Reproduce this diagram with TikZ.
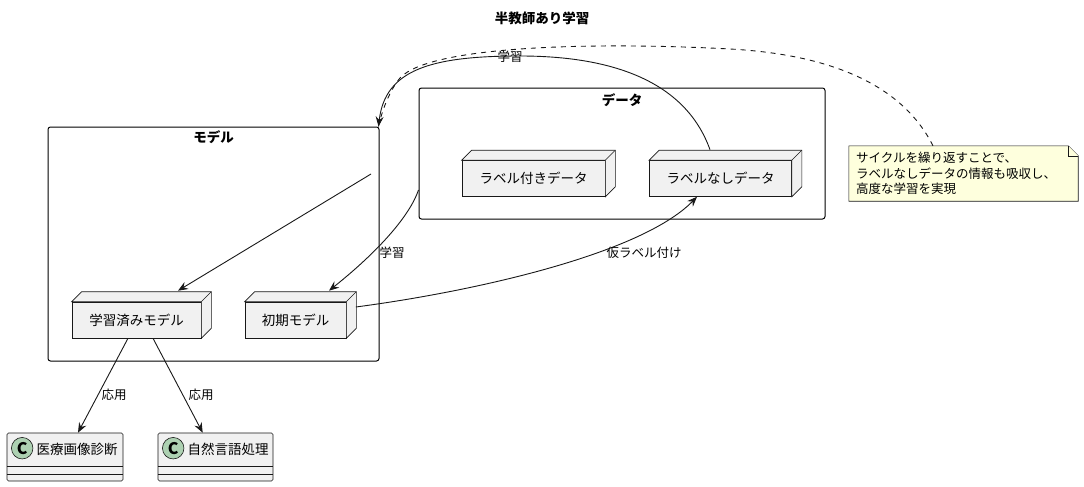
\documentclass[tikz,border=0pt]{standalone}
\usepackage{fontspec}
\setmainfont{Noto Sans CJK JP}
\usetikzlibrary{arrows.meta,calc}
\definecolor{nodefill}{HTML}{F1F1F1}
\definecolor{nodeline}{HTML}{181818}
\definecolor{notefill}{HTML}{FEFFDD}
\definecolor{circfill}{HTML}{ADD1B2}
\newcommand\threedbox[1]{%
  \filldraw[nodeedge] (#1.north west) -- ++(10,-10) -- ($(#1.north east)+(10,-10)$) -- ($(#1.south east)+(10,-10)$) -- (#1.south east) -- (#1.north east) -- cycle;
  \draw[nodeedge] (#1.north east) -- ++(10,-10);}
\newcommand\classsep[1]{%
  \draw[nodeedge] ([yshift=15.3pt]#1.south west) -- ([yshift=15.3pt]#1.south east);
  \draw[nodeedge] ([yshift=7.3pt]#1.south west) -- ([yshift=7.3pt]#1.south east);}
\begin{document}
\begin{tikzpicture}[x=1pt,y=-1pt,
  pkg/.style={draw=black,line width=1pt,rounded corners=2.5pt,inner sep=0pt},
  pkgtitle/.style={font=\fontsize{13.5}{16}\selectfont\bfseries,inner sep=0pt},
  nodeedge/.style={draw=nodeline,fill=nodefill,line width=0.6pt},
  nodebox/.style={nodeedge,minimum height=36pt,inner sep=0pt,font=\fontsize{13.5}{16}\selectfont},
  classbox/.style={nodeedge,rounded corners=1.5pt,minimum height=48pt,inner sep=0pt},
  circ/.style={circle,draw=nodeline,fill=circfill,line width=0.6pt,minimum size=21.5pt,inner sep=0pt,font=\fontsize{16}{16}\selectfont\bfseries},
  classtext/.style={inner sep=0pt,font=\fontsize{13.5}{16}\selectfont},
  lbl/.style={inner sep=0pt,font=\fontsize{12.5}{15}\selectfont},
  conn/.style={draw=nodeline,line width=0.9pt},
  arr/.style={conn,-{Stealth[length=10pt,width=8pt,inset=3.5pt]}},
  notestyle/.style={draw=nodeline,fill=notefill,line width=0.6pt}]
\useasboundingbox (0,0) rectangle (1084,487);

% title
\node[pkgtitle] (title) at (542,18) {半教師あり学習};

% packages
\node[pkg,minimum width=331pt,minimum height=234pt] (modelpkg) at (213.5,244) {};
\node[pkgtitle] (modeltitle) at (213.5,137) {モデル};
\node[pkg,minimum width=406pt,minimum height=131pt] (datapkg) at (622,153.5) {};
\node[pkgtitle] (datatitle) at (622,100) {データ};

% nodes
\node[nodebox,minimum width=129pt] (trained) at (136.5,320) {学習済みモデル};
\threedbox{trained}
\node[nodebox,minimum width=101pt] (init) at (295.5,320) {初期モデル};
\threedbox{init}
\node[nodebox,minimum width=143pt] (labeled) at (533.5,178.5) {ラベル付きデータ};
\threedbox{labeled}
\node[nodebox,minimum width=142pt] (unlabeled) at (720.5,178.5) {ラベルなしデータ};
\threedbox{unlabeled}

% classes
\node[classbox,minimum width=116pt] (med) at (65,457) {};
\classsep{med}
\node[circ] (medc) at ([xshift=15.5pt,yshift=-15.5pt]med.north west) {C};
\node[classtext,anchor=west] (medt) at (36.5,449) {医療画像診断};
\node[classbox,minimum width=115pt] (nlp) at (215.5,457) {};
\classsep{nlp}
\node[circ] (nlpc) at ([xshift=15.5pt,yshift=-15.5pt]nlp.north west) {C};
\node[classtext,anchor=west] (nlpt) at (187.5,449) {自然言語処理};

% note
\node[minimum width=229pt,minimum height=55pt,inner sep=0pt] (note) at (963.5,173.5) {};
\draw[notestyle] (note.north west) -- ([xshift=-10pt]note.north east) -- ([yshift=-10pt]note.north east) -- (note.south east) -- (note.south west) -- cycle;
\draw[notestyle] ([xshift=-10pt]note.north east) -- ([xshift=-10pt,yshift=-10pt]note.north east) -- ([yshift=-10pt]note.north east);
\node[anchor=west,align=left,inner sep=0pt,font=\fontsize{12.5}{15.5}\selectfont] (notetext) at (856,173.5) {サイクルを繰り返すことで、\\ラベルなしデータの情報も吸収し、\\高度な学習を実現};

% connectors
\coordinate (mstart) at (371,174);
\draw[arr] (mstart) -- ([xshift=41.5pt,yshift=11pt]trained.north);

\draw[arr] ([yshift=-36.5pt]datapkg.west) .. controls (410,215) and (380,250) .. ([xshift=33.5pt,yshift=11pt]init.north);
\node[lbl] (l1) at (392,253) {学習};

\draw[arr] ([xshift=9.5pt,yshift=13pt]init.east) .. controls (470,292) and (640,255) .. ([xshift=-23.5pt]unlabeled.south);
\node[lbl] (l2) at (644,253) {仮ラベル付け};

\draw[conn,dash pattern=on 5pt off 5pt] ([xshift=-30.5pt]note.north) .. controls (905,90) and (840,55) .. (730,49) .. controls (600,42) and (430,45) .. (400,78) .. controls (390,90) and (382,110) .. ([xshift=-1pt]modelpkg.north east);

\draw[arr] ([xshift=-10.5pt,yshift=10.5pt]unlabeled.north) .. controls (685,80) and (610,56) .. (520,56) .. controls (430,56) and (385,70) .. ([xshift=-1pt]modelpkg.north east);
\node[lbl] (l3) at (510,57) {学習};

\draw[arr] ([xshift=-8.5pt]trained.south) -- ([xshift=13pt]med.north);
\node[lbl] (l4) at (114,395) {応用};
\draw[arr] ([xshift=16.5pt]trained.south) -- ([xshift=-12.8pt]nlp.north);
\node[lbl] (l5) at (201,395) {応用};
\end{tikzpicture}
\end{document}
